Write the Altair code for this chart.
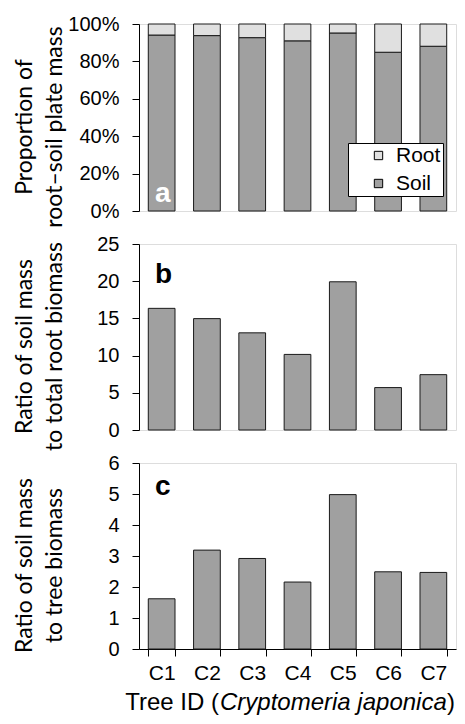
import altair as alt
import pandas as pd

# ---- data ----
trees = ["C1", "C2", "C3", "C4", "C5", "C6", "C7"]
soil_share = [0.941, 0.938, 0.927, 0.910, 0.952, 0.849, 0.881]
root_share = [round(1 - s, 3) for s in soil_share]
soil_to_root = [16.35, 14.97, 13.06, 10.16, 19.92, 5.70, 7.44]
soil_to_tree = [1.62, 3.19, 2.92, 2.16, 4.98, 2.49, 2.47]
components = ["Root", "Soil"]
comp_colors = ["#e0e0e0", "#a0a0a0"]
panel_letters = ["a", "b", "c"]
x_title_parts = ["Tree ID (", "Cryptomeria japonica", ")"]

W = 317
H_A, H_B, H_C = 187, 186, 186
NUM_FONT = "Liberation Sans"
TITLE_FONT = "Lato"
BAR_STROKE = "#1a1a1a"

xscale = alt.Scale(domain=trees, paddingInner=0.41, paddingOuter=0.205)


def yaxis(title, h, fmt=None, values=None):
    kw = dict(
        title=title,
        values=values,
        titleFont=TITLE_FONT,
        titleFontSize=23,
        titleFontWeight="normal",
        titleColor="black",
        titleAngle=-90,
        titleAlign="center",
        titleBaseline="alphabetic",
        titleLineHeight=30,
        titleX=-108,
        titleY=h / 2 + 9,
        labelFont=NUM_FONT,
        labelFontSize=20,
        labelColor="black",
        labelPadding=13,
        tickSize=7,
        tickColor="black",
        domainColor="black",
        grid=False,
    )
    if fmt:
        kw["format"] = fmt
    return alt.Axis(**kw)


def letter(ch, y, color):
    return alt.Chart(pd.DataFrame({"t": [ch]})).mark_text(
        font=NUM_FONT, fontSize=28, fontWeight="bold", color=color,
        align="left", baseline="alphabetic"
    ).encode(x=alt.value(16), y=alt.value(y), text="t:N")


# ---- panel a ----
dfa = pd.DataFrame({
    "tree": trees * 2,
    "component": ["Soil"] * 7 + ["Root"] * 7,
    "value": soil_share + root_share,
    "ord": [0] * 7 + [1] * 7,
})
bars_a = alt.Chart(dfa).mark_bar(stroke=BAR_STROKE, strokeWidth=1).encode(
    x=alt.X("tree:N", scale=xscale, axis=None),
    y=alt.Y("value:Q", stack="zero", scale=alt.Scale(domain=[0, 1], nice=False),
            axis=yaxis(["Proportion of", "root\u2013soil plate mass"], H_A, ".0%",
                       [0, 0.2, 0.4, 0.6, 0.8, 1.0])),
    color=alt.Color("component:N",
                    scale=alt.Scale(domain=components, range=comp_colors),
                    legend=alt.Legend(
                        title=None, orient="none", legendX=209, legendY=119,
                        fillColor="white", strokeColor="black",
                        padding=2, rowPadding=6, symbolType="square",
                        symbolSize=70, symbolStrokeColor="black",
                        symbolStrokeWidth=1, symbolOffset=18, labelOffset=7,
                        labelFont=NUM_FONT, labelFontSize=21, labelColor="black",
                        labelExpr="datum.label + '   '",
                    )),
    order=alt.Order("ord:Q"),
)
panel_a = alt.layer(bars_a, letter(panel_letters[0], H_A - 9, "white")).properties(
    width=W, height=H_A)

# ---- panel b ----
dfb = pd.DataFrame({"tree": trees, "v": soil_to_root})
bars_b = alt.Chart(dfb).mark_bar(color="#a0a0a0", stroke=BAR_STROKE, strokeWidth=1).encode(
    x=alt.X("tree:N", scale=xscale, axis=None),
    y=alt.Y("v:Q", scale=alt.Scale(domain=[0, 25], nice=False),
            axis=yaxis(["Ratio of soil mass", "to total root biomass"], H_B,
                       values=[0, 5, 10, 15, 20, 25])),
)
panel_b = alt.layer(bars_b, letter(panel_letters[1], 39, "black")).properties(
    width=W, height=H_B)

# ---- panel c ----
dfc = pd.DataFrame({"tree": trees, "v": soil_to_tree})
bars_c = alt.Chart(dfc).mark_bar(color="#a0a0a0", stroke=BAR_STROKE, strokeWidth=1).encode(
    x=alt.X("tree:N", scale=xscale,
            axis=alt.Axis(title=None, tickBand="extent", labelAngle=0,
                          labelFont=NUM_FONT, labelFontSize=21, labelColor="black",
                          labelPadding=6, tickSize=7, tickColor="black",
                          domainColor="black")),
    y=alt.Y("v:Q", scale=alt.Scale(domain=[0, 6], nice=False),
            axis=yaxis(["Ratio of soil mass", "to tree biomass"], H_C,
                       values=[0, 1, 2, 3, 4, 5, 6])),
)

TY = H_C + 61
t1 = alt.Chart(pd.DataFrame({"t": [x_title_parts[0]]})).mark_text(
    font=NUM_FONT, fontSize=24, color="black", align="right", baseline="alphabetic"
).encode(x=alt.value(80), y=alt.value(TY), text="t:N")
t2 = alt.Chart(pd.DataFrame({"t": [x_title_parts[1]]})).mark_text(
    font=NUM_FONT, fontSize=24, fontStyle="italic", color="black", align="left",
    baseline="alphabetic"
).encode(x=alt.value(81), y=alt.value(TY), text="t:N")
t3 = alt.Chart(pd.DataFrame({"t": [x_title_parts[2]]})).mark_text(
    font=NUM_FONT, fontSize=24, color="black", align="left", baseline="alphabetic"
).encode(x=alt.value(308), y=alt.value(TY), text="t:N")

panel_c = alt.layer(bars_c, letter(panel_letters[2], 32, "black"), t1, t2, t3).properties(
    width=W, height=H_C)

chart = alt.vconcat(panel_a, panel_b, panel_c, spacing=33, bounds="flush").resolve_scale(
    color="independent"
).properties(
    padding={"left": 4, "top": 5, "right": 0, "bottom": 0}
).configure_view(stroke="black", strokeWidth=1).configure(background="white")

chart.save("out.html", embed_options={"renderer": "svg", "actions": False})
